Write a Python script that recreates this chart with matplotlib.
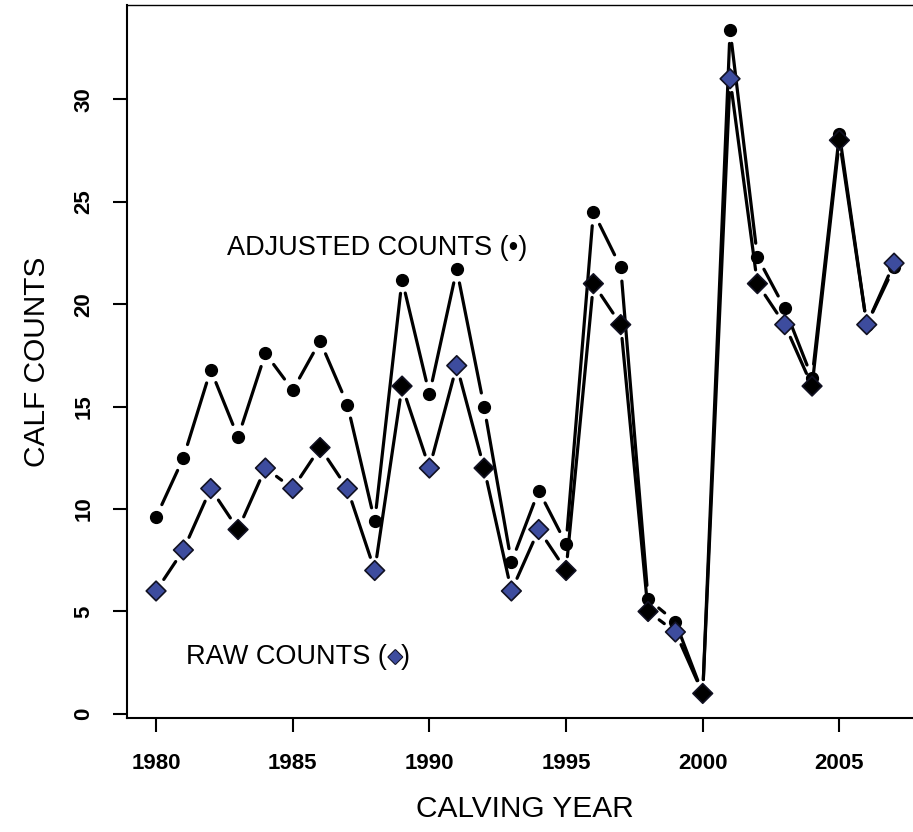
import matplotlib.pyplot as plt
import matplotlib.patheffects as pe

years = list(range(1980, 2008))
raw_counts = [6, 8, 11, 9, 12, 11, 13, 11, 7, 16, 12, 17, 12, 6,
              9, 7, 21, 19, 5, 4, 1, 31, 21, 19, 16, 28, 19, 22]
adjusted_counts = [9.6, 12.5, 16.8, 13.5, 17.6, 15.8, 18.2, 15.1, 9.4, 21.2,
                   15.6, 21.7, 15.0, 7.4, 10.9, 8.3, 24.5, 21.8, 5.6, 4.5,
                   1.0, 33.4, 22.3, 19.8, 16.4, 28.3, 19.0, 21.8]
x_ticks = [1980, 1985, 1990, 1995, 2000, 2005]
y_ticks = [0, 5, 10, 15, 20, 25, 30]

# diamonds that came out black in the scan, the rest are blue
dark_years = [1983, 1986, 1989, 1992, 1995, 1996, 1997, 1998, 2000, 2002, 2004, 2005]

FONT = "Liberation Sans"
BLUE = "#3d4c9e"


def connect(ax, xs, ys):
    # R type="b": segments stop short of the points
    for i in range(len(xs) - 1):
        ax.annotate("", xy=(xs[i + 1], ys[i + 1]), xytext=(xs[i], ys[i]),
                    arrowprops=dict(arrowstyle="-", color="black", lw=2.3,
                                    shrinkA=10, shrinkB=10), zorder=2)


fig = plt.figure(figsize=(9.13, 8.32), dpi=100)
ax = fig.add_axes([0.1386, 0.137, 0.873, 0.857])
ax.set_xlim(1978.92, 2008.08)
ax.set_ylim(-0.2, 34.6)

connect(ax, years, adjusted_counts)
ax.plot(years, adjusted_counts, "o", color="black", markersize=8.5, zorder=3)

connect(ax, years, raw_counts)
face = ["black" if y in dark_years else BLUE for y in years]
ax.scatter(years, raw_counts, marker="D", s=10 ** 2, c=face,
           edgecolors="#111122", linewidths=1.2, zorder=4)

# labels inside the plot
ax.text(1982.6, 22.4, "ADJUSTED COUNTS (\u2022)", fontsize=19.5, family=FONT)
t1 = ax.text(1981.1, 2.45, "RAW COUNTS (", fontsize=19.5, family=FONT)
ax.annotate("\u25c6", xy=(1, 0.5), xycoords=t1, xytext=(1, 0), textcoords="offset points",
            ha="left", va="center", fontsize=13, color=BLUE, family="DejaVu Sans",
            path_effects=[pe.withStroke(linewidth=1.5, foreground="#111122")])
ax.annotate(")", xy=(1, 0), xycoords=t1, xytext=(10, 0), textcoords="offset points",
            ha="left", va="bottom", fontsize=19.5, family=FONT)

ax.set_xticks(x_ticks)
ax.set_yticks(y_ticks)
ax.set_xticklabels([str(v) for v in x_ticks], fontsize=16, fontweight="bold", family=FONT)
ax.set_yticklabels([str(v) for v in y_ticks], fontsize=16, fontweight="bold", family=FONT,
                   rotation=90, va="center")
ax.tick_params(axis="both", direction="out", length=10, width=1.5, color="black")
ax.tick_params(axis="x", pad=15)
ax.tick_params(axis="y", pad=13)

ax.set_xlabel("CALVING YEAR", fontsize=21.5, family=FONT, labelpad=15)
ax.set_ylabel("CALF COUNTS", fontsize=21.5, family=FONT, labelpad=16)

for s in ax.spines.values():
    s.set_linewidth(1.5)
ax.spines["top"].set_linewidth(1.0)

fig.savefig("out.png", dpi=100)
